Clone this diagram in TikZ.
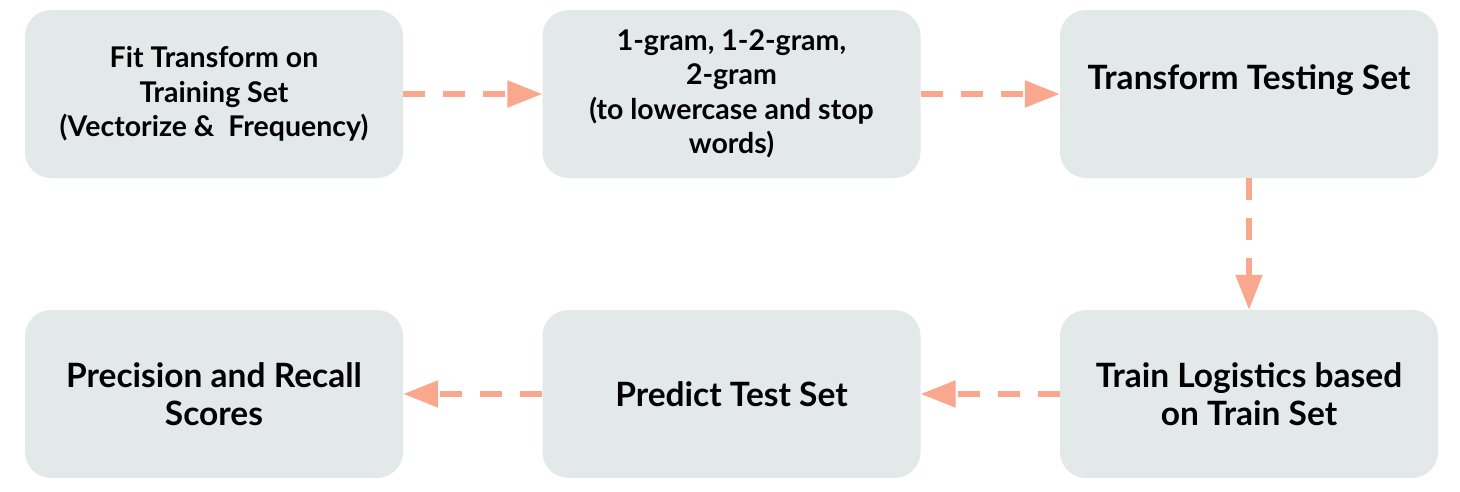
\documentclass[tikz,border=0pt]{standalone}
\usepackage{fontspec}
\setmainfont{Lato}
\usetikzlibrary{arrows.meta}
\definecolor{boxfill}{HTML}{E3E9E9}
\definecolor{arrcol}{HTML}{F9A88E}
\begin{document}
\begin{tikzpicture}[x=1pt,y=-1pt,
  box/.style={fill=boxfill,rounded corners=26pt,minimum width=378pt,minimum height=168pt,
    align=center,inner sep=0pt,font=\bfseries},
  smalltxt/.style={font=\fontsize{28.5}{34.5}\selectfont\bfseries},
  bigtxt/.style={font=\fontsize{33.5}{38.5}\selectfont\bfseries},
  arr/.style={draw=arrcol,line width=5.5pt,dash pattern=on 22pt off 18pt,
    -{Triangle[length=35pt,width=26pt]}, arrcol}]
\useasboundingbox (0,0) rectangle (1460,491);
\node[box,smalltxt] (b1) at (214,94) {Fit Transform on\\Training Set\\(Vectorize \&\ \ Frequency)};
\node[box,smalltxt] (b2) at (731.5,94) {1-gram, 1-2-gram,\\2-gram\\(to lowercase and stop\\words)};
\node[box,bigtxt] (b3) at (1249,94) {\raisebox{34pt}{Transform Testing Set}};
\node[box,bigtxt] (b4) at (214,394) {Precision and Recall\\Scores};
\node[box,bigtxt] (b5) at (731.5,394) {Predict Test Set};
\node[box,bigtxt] (b6) at (1249,394) {Train Logistics based\\on Train Set};
\draw[arr] (b1.east) -- (b2.west);
\draw[arr] (b2.east) -- (b3.west);
\draw[arr] (b3.south) -- (b6.north);
\draw[arr] (b6.west) -- (b5.east);
\draw[arr] (b5.west) -- (b4.east);
\end{tikzpicture}
\end{document}
